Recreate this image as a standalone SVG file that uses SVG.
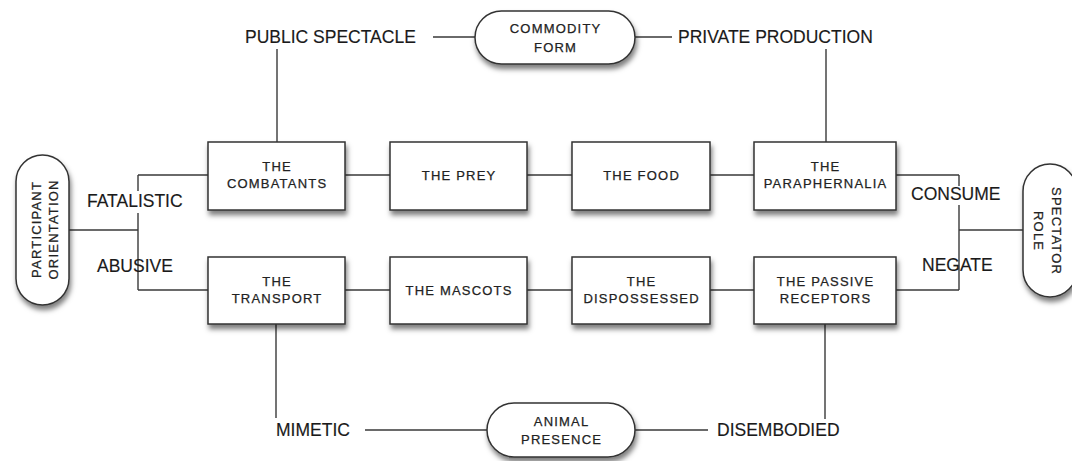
<svg xmlns="http://www.w3.org/2000/svg" width="1072" height="461" viewBox="0 0 1072 461">
<defs>
<style>
.box{fill:#fff;stroke:#333;stroke-width:1.5;filter:url(#sh)}
.ln{fill:none;stroke:#3a3a3a;stroke-width:1.4}
.bt{font-family:"Liberation Sans",Arial,sans-serif;font-size:13px;letter-spacing:1.2px;fill:#222;stroke:#222;stroke-width:0.25;text-anchor:middle}
.lb{font-family:"Liberation Sans",Arial,sans-serif;font-size:17.5px;fill:#1a1a1a;stroke:#1a1a1a;stroke-width:0.15}
</style>
<filter id="sh" x="-20%" y="-20%" width="140%" height="150%">
<feDropShadow dx="1.5" dy="4.5" stdDeviation="2.8" flood-color="#000" flood-opacity="0.5"/>
</filter>
</defs>
<rect width="1072" height="461" fill="#fff"/>
<g id="connectors">
<path class="ln" d="M433 37H475M635 37H672"/>
<path class="ln" d="M277 49V142M826 49V142"/>
<path class="ln" d="M138 175H208M345 175H390M527 175H572M710 175H754M896 175H959"/>
<path class="ln" d="M138 290H208M345 290H390M527 290H572M710 290H754M896 290H959"/>
<path class="ln" d="M138 175V290M959 175V290"/>
<path class="ln" d="M69 230H138M959 230H1023"/>
<path class="ln" d="M276 324V418M825 324V419"/>
<path class="ln" d="M365 430H487M635 430H708"/>
</g>
<g id="labels">
<rect x="86" y="191" width="102" height="22" fill="#fff"/>
<text class="lb" x="87" y="207">FATALISTIC</text>
<text class="lb" x="97" y="272">ABUSIVE</text>
<rect x="909" y="186" width="95" height="19" fill="#fff"/>
<text class="lb" x="911" y="200">CONSUME</text>
<text class="lb" x="922" y="271">NEGATE</text>
<text class="lb" x="245" y="43">PUBLIC SPECTACLE</text>
<text class="lb" x="678" y="43">PRIVATE PRODUCTION</text>
<text class="lb" x="276" y="436">MIMETIC</text>
<text class="lb" x="717" y="436">DISEMBODIED</text>
</g>
<g id="commodity-form">
<rect class="box" x="475" y="11" width="160" height="53" rx="26.5"/>
<text class="bt" x="555.6" y="33">COMMODITY</text>
<text class="bt" x="555.6" y="52">FORM</text>
</g>
<g id="animal-presence">
<rect class="box" x="487" y="403" width="148" height="54" rx="27"/>
<text class="bt" x="561.6" y="426">ANIMAL</text>
<text class="bt" x="561.6" y="444">PRESENCE</text>
</g>
<g id="participant-orientation">
<rect class="box" x="16" y="155" width="53" height="150" rx="26.5"/>
<g transform="translate(42.5 230) rotate(-90)">
<text class="bt" x="0.6" y="-2">PARTICIPANT</text>
<text class="bt" x="0.6" y="15">ORIENTATION</text>
</g>
</g>
<g id="spectator-role">
<rect class="box" x="1023" y="164" width="54" height="133" rx="27"/>
<g transform="translate(1050 230.5) rotate(90)">
<text class="bt" x="0.6" y="-2">SPECTATOR</text>
<text class="bt" x="0.6" y="16">ROLE</text>
</g>
</g>
<g id="the-combatants">
<rect class="box" x="208" y="142" width="137" height="68"/>
<text class="bt" x="277.1" y="171">THE</text>
<text class="bt" x="277.1" y="188">COMBATANTS</text>
</g>
<g id="the-prey">
<rect class="box" x="390" y="142" width="137" height="68"/>
<text class="bt" x="459.1" y="180">THE PREY</text>
</g>
<g id="the-food">
<rect class="box" x="572" y="142" width="138" height="68"/>
<text class="bt" x="641.6" y="180">THE FOOD</text>
</g>
<g id="the-paraphernalia">
<rect class="box" x="754" y="142" width="142" height="68"/>
<text class="bt" x="825.6" y="171">THE</text>
<text class="bt" x="825.6" y="188">PARAPHERNALIA</text>
</g>
<g id="the-transport">
<rect class="box" x="208" y="257" width="137" height="67"/>
<text class="bt" x="277.1" y="286">THE</text>
<text class="bt" x="277.1" y="303">TRANSPORT</text>
</g>
<g id="the-mascots">
<rect class="box" x="390" y="257" width="137" height="67"/>
<text class="bt" x="459.1" y="295">THE MASCOTS</text>
</g>
<g id="the-dispossessed">
<rect class="box" x="572" y="257" width="138" height="67"/>
<text class="bt" x="641.6" y="286">THE</text>
<text class="bt" x="641.6" y="303">DISPOSSESSED</text>
</g>
<g id="the-passive-receptors">
<rect class="box" x="754" y="257" width="142" height="67"/>
<text class="bt" x="825.6" y="286">THE PASSIVE</text>
<text class="bt" x="825.6" y="303">RECEPTORS</text>
</g>
</svg>
